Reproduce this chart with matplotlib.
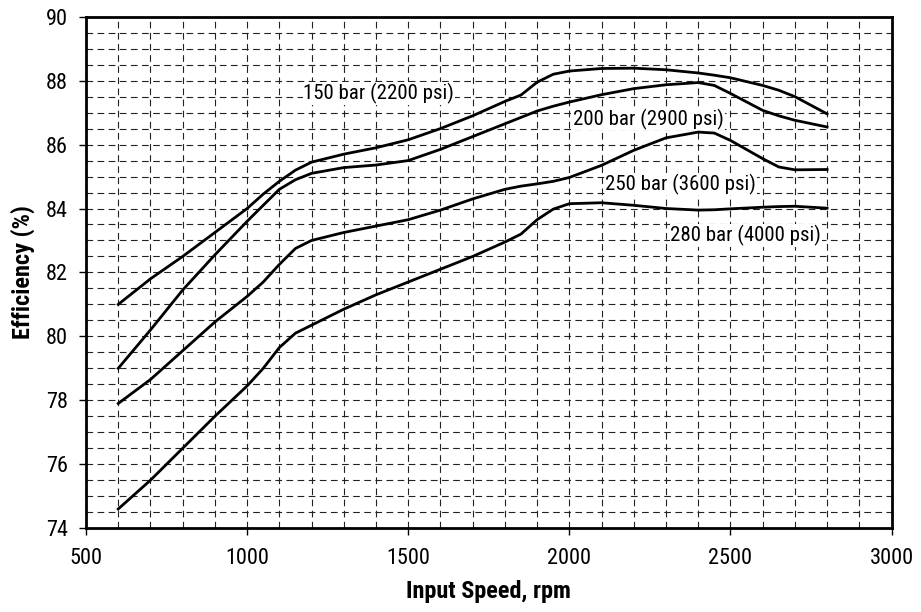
import matplotlib
matplotlib.use("Agg")
import matplotlib.pyplot as plt
from matplotlib.ticker import MultipleLocator

plt.rcParams['font.family'] = ['Roboto Condensed', 'Liberation Sans', 'DejaVu Sans']

# input speed (rpm)
rpm = [600, 700, 800, 900, 1000, 1050, 1100, 1150, 1200, 1300, 1400, 1500,
       1600, 1700, 1800, 1850, 1900, 1950, 2000, 2100, 2200, 2300, 2400,
       2450, 2500, 2600, 2650, 2700, 2800]

eff_150 = [81.0, 81.8, 82.5, 83.25, 84.0, 84.45, 84.85, 85.2, 85.45, 85.7, 85.9, 86.15,
           86.5, 86.9, 87.35, 87.55, 87.95, 88.2, 88.3, 88.38, 88.39, 88.34, 88.24,
           88.17, 88.09, 87.85, 87.7, 87.5, 86.96]
eff_200 = [79.0, 80.2, 81.45, 82.55, 83.6, 84.1, 84.6, 84.9, 85.1, 85.28, 85.36, 85.5,
           85.85, 86.25, 86.65, 86.85, 87.05, 87.2, 87.33, 87.56, 87.75, 87.87, 87.94,
           87.85, 87.6, 87.07, 86.9, 86.76, 86.55]
eff_250 = [77.9, 78.65, 79.55, 80.45, 81.25, 81.7, 82.25, 82.75, 83.0, 83.25, 83.45, 83.65,
           83.95, 84.3, 84.6, 84.7, 84.77, 84.85, 84.97, 85.35, 85.82, 86.21, 86.39,
           86.36, 86.13, 85.56, 85.3, 85.21, 85.22]
eff_280 = [74.6, 75.5, 76.5, 77.5, 78.45, 79.0, 79.65, 80.1, 80.35, 80.85, 81.3, 81.7,
           82.1, 82.5, 82.95, 83.2, 83.65, 83.98, 84.15, 84.18, 84.1, 84.0, 83.95,
           83.96, 83.99, 84.04, 84.06, 84.07, 84.01]

labels = ["150 bar (2200 psi)", "200 bar (2900 psi)", "250 bar (3600 psi)", "280 bar (4000 psi)"]
label_x = [1174, 2012, 2112, 2314]
label_y = [87.6, 86.8, 84.76, 83.16]

fig = plt.figure(figsize=(9.21, 6.12), dpi=100)
ax = fig.add_axes([0.0934, 0.137, 0.8746, 0.8357])

for eff in [eff_150, eff_200, eff_250, eff_280]:
    ax.plot(rpm, eff, color='black', lw=2.0, solid_joinstyle='round', zorder=3)

for txt, x, y in zip(labels, label_x, label_y):
    ax.text(x, y, txt, fontsize=15, ha='left', va='center', zorder=4,
            bbox=dict(facecolor='white', edgecolor='none', pad=0.5))

ax.set_xlim(500, 3000)
ax.set_ylim(74, 90)
ax.xaxis.set_major_locator(MultipleLocator(500))
ax.yaxis.set_major_locator(MultipleLocator(2))
ax.xaxis.set_minor_locator(MultipleLocator(100))
ax.yaxis.set_minor_locator(MultipleLocator(0.5))
ax.grid(which='both', color='#222222', lw=0.8, dashes=(6, 4))
ax.set_axisbelow(True)
ax.tick_params(which='major', direction='out', length=5, width=1, labelsize=16)
ax.tick_params(axis='x', pad=9)
ax.tick_params(axis='y', pad=8)
ax.tick_params(which='minor', length=0)
for s in ax.spines.values():
    s.set_linewidth(2)

ax.set_xlabel("Input Speed, rpm", fontsize=17.5, fontweight='bold', labelpad=8)
ax.set_ylabel("Efficiency (%)", fontsize=17.5, fontweight='bold', labelpad=8)

fig.savefig("out.png", dpi=100)
